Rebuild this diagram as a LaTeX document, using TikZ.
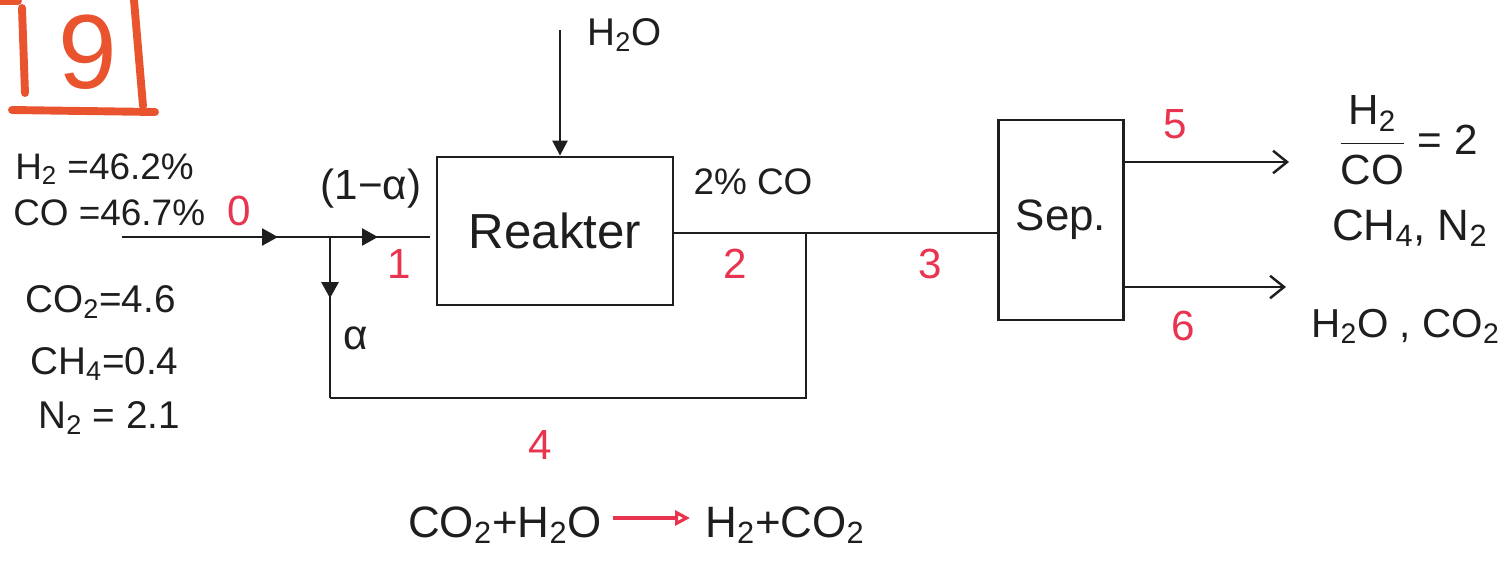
\documentclass[tikz,border=0pt]{standalone}
\usepackage{fontspec}
\setmainfont{Liberation Sans}
\usetikzlibrary{arrows.meta,decorations.markings}
\definecolor{ink}{HTML}{1E1E1E}
\definecolor{numred}{HTML}{E8344E}
\definecolor{boxred}{HTML}{E9542F}
\newcommand\chemsub[1]{\textsubscript{#1}}
\begin{document}
\begin{tikzpicture}[x=0.02cm,y=-0.02cm,
  line/.style={draw=ink,line width=1.4pt},
  unitbox/.style={draw=ink,line width=1.6pt,inner sep=0pt,text=ink},
  lbl/.style={text=ink,inner sep=0pt,font=\fontsize{22}{26}\selectfont},
  num/.style={text=numred,inner sep=0pt,font=\fontsize{24}{28}\selectfont},
  redline/.style={draw=boxred,line width=4.5pt,line cap=round},
  filltip/.style={-{Triangle[length=0.3cm,width=0.3cm]}},
  midtip/.style={postaction={decorate},decoration={markings,
     mark=at position #1 with {\arrow{Triangle[length=0.32cm,width=0.34cm]}}}},
  opentip/.style={-{Straight Barb[length=0.28cm,width=0.45cm,line width=1.4pt]}}]
\useasboundingbox (0,0) rectangle (1510,562);

% problem number
\draw[redline] (0,1) -- (18,1);
\draw[redline] (22,8) -- (25,93);
\draw[redline] (134,0) -- (143,106);
\draw[redline] (12,110) -- (155,112);
\node[text=boxred,inner sep=0pt,font=\fontsize{60}{60}\selectfont] (nine) at (88,52) {9};

% units
\node[unitbox,minimum width=4.72cm,minimum height=2.96cm,font=\fontsize{28}{32}\selectfont] (reak) at (555,231) {Reakter};
\node[unitbox,minimum width=2.5cm,minimum height=4cm,font=\fontsize{25}{30}\selectfont] (sep) at (1061,220) {Sep.};

% coordinates
\coordinate (f0) at (122,237);
\coordinate (j) at (330,237);
\coordinate (f1) at (430,237);
\coordinate (r2) at (806,233);
\coordinate (r4) at (806,398);
\coordinate (r5) at (330,398);
\coordinate (w) at (560,30);
\coordinate (s5) at (1289,162);
\coordinate (s6) at (1286,287);

% feed and split
\draw[line,midtip=0.75] (f0) -- (j);
\draw[line,midtip=0.48] (j) -- (f1);
\draw[line,midtip=0.38] (j) -- (r5);
\draw[line] (r5) -- (r4) -- (r2);
\draw[line] (reak.east |- r2) -- (r2) -- (sep.west |- r2);
\draw[line,filltip] (w) -- (w |- reak.north);
\draw[line,opentip] (sep.east |- s5) -- (s5);
\draw[line,opentip] (sep.east |- s6) -- (s6);

% feed composition
\node[lbl,anchor=base west,font=\fontsize{21}{25}\selectfont] (xh2) at (15,179) {H\chemsub{2} =46.2\%};
\node[lbl,anchor=base west,font=\fontsize{21}{25}\selectfont] (xco) at (13,225) {CO =46.7\%};
\node[lbl,anchor=base west] (xco2) at (25,312) {CO\chemsub{2}=4.6};
\node[lbl,anchor=base west] (xch4) at (30,374) {CH\chemsub{4}=0.4};
\node[lbl,anchor=base west] (xn2) at (38,428) {N\chemsub{2} = 2.1};

% labels
\node[lbl,font=\fontsize{24}{28}\selectfont] (oma) at (371,189) {(1−α)};
\node[lbl,font=\fontsize{24}{28}\selectfont] (alpha) at (356,338) {α};
\node[lbl,anchor=base west] (h2o) at (587,45) {H\chemsub{2}O};
\node[lbl,font=\fontsize{21}{25}\selectfont] (pco) at (753,182) {2\% CO};

% stream numbers
\node[num] (n0) at (239,211) {0};
\node[num] (n1) at (399,264) {1};
\node[num] (n2) at (735,264) {2};
\node[num] (n3) at (930,264) {3};
\node[num] (n4) at (540,445) {4};
\node[num] (n5) at (1175,124) {5};
\node[num] (n6) at (1183,326) {6};

% products
\node[lbl,font=\fontsize{24}{28}\selectfont] (ratio) at (1408,140) {$\displaystyle\frac{\mbox{H\chemsub{2}}}{\mbox{CO}}$ = 2};
\node[lbl,anchor=base east,font=\fontsize{25}{30}\selectfont] (p5) at (1488,240) {CH\chemsub{4}, N\chemsub{2}};
\node[lbl,anchor=base east,font=\fontsize{23}{28}\selectfont] (p6) at (1500,337) {H\chemsub{2}O , CO\chemsub{2}};

% reaction
\node[lbl,anchor=base east,font=\fontsize{25}{30}\selectfont] (eqL) at (602,537) {CO\chemsub{2}+H\chemsub{2}O};
\node[lbl,anchor=base west,font=\fontsize{25}{30}\selectfont] (eqR) at (705,537) {H\chemsub{2}+CO\chemsub{2}};
\draw[draw=numred,line width=1.8pt,-{Triangle[open,length=0.3cm,width=0.3cm,line width=1.8pt]},shorten <=6pt,shorten >=0.3cm] (eqL.east |- 0,518) -- (eqR.west |- 0,518);
\end{tikzpicture}
\end{document}
